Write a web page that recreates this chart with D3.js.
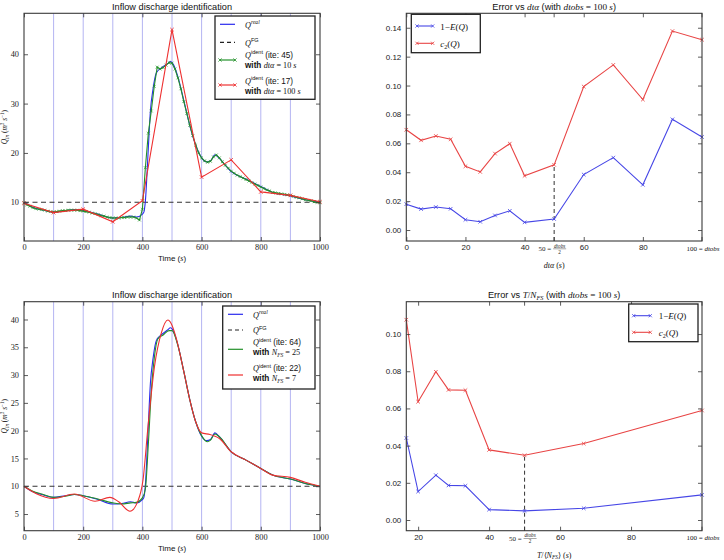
<!DOCTYPE html>
<html><head><meta charset="utf-8">
<script src="https://cdn.jsdelivr.net/npm/d3@7"></script>
<style>body{margin:0;background:#fff} svg{display:block}</style>
</head><body><svg id="c" width="724" height="560"></svg>
<script>
// ---------------- DATA ----------------
const timeTicks = [0, 200, 400, 600, 800, 1000];
const gridTimes = [100, 200, 300, 400, 500, 600, 700, 800, 900];
const qFG = 10;
// Q real (knots)
const realT = [0,30,60,100,140,170,200,250,300,330,360,380,400,405,410,419,427,436,447,465,485,495,505,520,540,560,580,600,617,630,645,660,700,750,800,840,900,950,1000];
const realQ = [10.0,9.0,8.5,8.0,8.3,8.5,8.3,7.6,6.8,6.9,7.2,7.0,7.6,8.0,10.2,19.8,28.5,33.0,36.2,37.3,38.1,38.5,37.9,35.4,30.6,25.6,21.6,19.0,18.2,18.4,19.6,18.9,16.2,14.7,13.2,12.0,11.3,10.5,10.0];
// Top-left: identified Q with dta = 10 s (ite 45)
const ident10T = [0,10,20,30,40,50,60,70,80,90,100,110,120,130,140,150,160,170,180,190,200,210,220,230,240,250,260,270,280,290,300,310,320,330,340,350,360,370,380,390,400,410,420,430,440,450,460,470,480,490,500,510,520,530,540,550,560,570,580,590,600,610,620,630,640,650,660,670,680,690,700,710,720,730,740,750,760,770,780,790,800,810,820,830,840,850,860,870,880,890,900,910,920,930,940,950,960,970,980,990,1000];
const ident10Q = [9.9,9.5,9.2,8.9,8.7,8.6,8.5,8.4,8.2,8.1,8.0,8.1,8.2,8.3,8.3,8.4,8.4,8.4,8.4,8.3,8.2,8.1,8.0,7.8,7.7,7.5,7.3,7.2,7.0,6.9,6.8,6.8,6.8,6.9,6.9,7.0,7.0,7.0,6.8,6.4,8.6,17.0,24.0,28.5,33.5,37.4,37.0,37.3,37.8,38.3,38.2,37.0,35.2,33.0,30.4,28.0,25.6,23.5,21.6,20.0,19.0,18.4,18.1,18.3,19.2,19.6,19.0,18.2,17.5,16.9,16.3,15.9,15.5,15.2,14.9,14.6,14.3,14.0,13.7,13.4,13.1,12.8,12.5,12.3,12.0,11.9,11.8,11.7,11.6,11.5,11.4,11.2,11.0,10.9,10.7,10.5,10.4,10.3,10.1,10.0,9.9];
// Top-left: identified Q with dta = 100 s (ite 17)
const ident100T = [0,100,200,300,400,500,600,700,800,900,1000];
const ident100Q = [9.8,7.9,8.6,6.05,10.3,45.0,15.1,18.6,12.1,11.4,10.1];
// Bottom-left: N_FS = 25 (ite 64)
const nfs25T = [0,30,60,100,140,170,200,250,300,330,360,380,400,410,420,430,440,452,470,490,500,520,540,560,580,600,620,630,645,660,700,750,800,840,900,950,1000];
const nfs25Q = [10.0,9.1,8.6,8.0,8.2,8.5,8.3,7.7,7.0,6.8,7.0,7.1,7.9,9.5,17.5,27.0,33.0,36.5,37.2,38.0,38.0,35.3,30.6,25.6,21.6,19.1,18.0,18.3,19.4,18.9,16.2,14.7,13.2,12.0,11.3,10.5,10.0];
// Bottom-left: N_FS = 7 (ite 22)
const nfs7T = [0,40,100,170,240,290,320,358,386,402,419,441,464,486,498,514,540,560,580,600,628,645,660,700,750,800,840,900,950,1000];
const nfs7Q = [10.0,8.7,7.8,8.6,7.3,8.0,7.2,5.5,7.5,11.1,20.8,31.6,37.6,39.9,39.2,36.7,30.6,25.6,21.6,19.6,19.3,19.0,18.6,16.2,14.7,13.2,12.0,11.6,10.7,10.0];
// Top-right: error vs dta
const dta = [0,5,10,15,20,25,30,35,40,50,60,70,80,90,100];
const errDta = [0.0179,0.0145,0.0159,0.0147,0.0071,0.0057,0.0101,0.0133,0.0053,0.0076,0.0384,0.0501,0.0313,0.0766,0.0644];
const c2Dta = [0.0694,0.0621,0.0651,0.0628,0.0441,0.0402,0.0529,0.0598,0.0375,0.0451,0.0993,0.1143,0.0903,0.1377,0.1317];
const dtaTicks = [0, 20, 40, 60, 80];
const errTicksTop = [0, 0.02, 0.04, 0.06, 0.08, 0.10, 0.12, 0.14];
// Bottom-right: error vs T/N_FS
const tNfs = [16.667,20,25,28.571,33.333,40,50,66.667,100];
const errNfs = [0.0441,0.0153,0.0241,0.0186,0.0184,0.0056,0.0049,0.0063,0.0135];
const c2Nfs = [0.1077,0.0636,0.0797,0.0700,0.0698,0.0377,0.0348,0.0411,0.0589];
const nfsTicks = [20, 40, 60, 80];
const errTicksBot = [0, 0.02, 0.04, 0.06, 0.08, 0.10];

// ---------------- STYLE ----------------
const SANS = "Liberation Sans, Arial, sans-serif";
const SERIF = "Liberation Serif, Times New Roman, serif";
const BLUE = "#2a2aee", GREEN = "#23902a", RED = "#ee3030", GRID = "#b4b4f2";
const EBLUE = "#4646e6", ERED = "#e84444";

const svg = d3.select("#c");

function makePanel(x0, x1, y0, y1, xd, yd) {
  return {x0, x1, y0, y1,
    x: d3.scaleLinear().domain(xd).range([x0, x1]),
    y: d3.scaleLinear().domain(yd).range([y1, y0])};
}
const P1 = makePanel(24, 320, 13.3, 241, [0, 1000], [2.15, 48.3]);
const P3 = makePanel(24, 320, 301.7, 530.7, [0, 1000], [2.0, 43.2]);
const P2 = makePanel(406.3, 702, 13.3, 241, [0, 100], [-0.0076, 0.150]);
const P4 = makePanel(406.3, 702, 301.7, 530.7, [tNfs[0], 100], [-0.00575, 0.1174]);

// rich text helper: parts = [[text, style]] style tokens: s (sans) i (serif italic) r (serif) b (bold) sup sub
function rich(g, x, y, size, parts, anchor) {
  const t = g.append("text").attr("x", x).attr("y", y).attr("font-size", size)
    .attr("text-anchor", anchor || "start").attr("fill", "#111");
  let shift = 0;
  parts.forEach(([txt, st]) => {
    const tok = st.split(" ");
    const ts = t.append("tspan").text(txt);
    let target = 0, fs = size;
    if (tok.includes("sup")) { target = -size * 0.42; fs = size * 0.68; }
    if (tok.includes("sub")) { target = size * 0.22; fs = size * 0.68; }
    ts.attr("dy", target - shift); shift = target;
    ts.attr("font-size", fs);
    ts.attr("font-family", tok.includes("s") ? SANS : SERIF);
    if (tok.includes("i")) ts.attr("font-style", "italic");
    if (tok.includes("b")) ts.attr("font-weight", "bold");
  });
  return t;
}

function frameAndTicks(P, xTicks, yTicks, xFmt, yFmt, labelFont, labelSize) {
  const g = svg.append("g");
  const xb = d3.axisBottom(P.x).tickValues(xTicks).tickSizeInner(-4).tickSizeOuter(0).tickPadding(3.5).tickFormat(xFmt);
  const xt = d3.axisTop(P.x).tickValues(xTicks).tickSizeInner(-4).tickSizeOuter(0).tickFormat("");
  const yl = d3.axisLeft(P.y).tickValues(yTicks).tickSizeInner(-4).tickSizeOuter(0).tickPadding(5).tickFormat(yFmt);
  const yr = d3.axisRight(P.y).tickValues(yTicks).tickSizeInner(-4).tickSizeOuter(0).tickFormat("");
  [[xb, `translate(0,${P.y1})`], [xt, `translate(0,${P.y0})`], [yl, `translate(${P.x0},0)`], [yr, `translate(${P.x1},0)`]].forEach(([ax, tr]) => {
    const a = g.append("g").attr("transform", tr).call(ax);
    a.select(".domain").remove();
    a.selectAll("line").attr("stroke", "#333").attr("stroke-width", 0.8);
    a.selectAll("text").attr("font-family", labelFont).attr("font-size", labelSize).attr("fill", "#222");
  });
  g.append("rect").attr("x", P.x0).attr("y", P.y0).attr("width", P.x1 - P.x0).attr("height", P.y1 - P.y0)
    .attr("fill", "none").attr("stroke", "#3a3a3a").attr("stroke-width", 1.1);
  return g;
}

function xMarks(g, pts, color, r, sw) {
  g.selectAll(null).data(pts).join("path")
    .attr("d", d => `M${d[0]-r},${d[1]-r}L${d[0]+r},${d[1]+r}M${d[0]-r},${d[1]+r}L${d[0]+r},${d[1]-r}`)
    .attr("stroke", color).attr("stroke-width", sw).attr("fill", "none");
}

function drawLine(g, P, xs, ys, color, curve, w, dash) {
  const pts = xs.map((v, i) => [P.x(v), P.y(ys[i])]);
  g.append("path").attr("d", d3.line().curve(curve || d3.curveLinear)(pts))
    .attr("fill", "none").attr("stroke", color).attr("stroke-width", w || 1).attr("stroke-dasharray", dash || null);
  return pts;
}

// ---------------- LEFT PANELS ----------------
function leftPanel(P, yTicks, title, titleY, legendBox, legendEntries, series) {
  const g = svg.append("g");
  g.selectAll(null).data(gridTimes).join("line")
    .attr("x1", d => P.x(d)).attr("x2", d => P.x(d)).attr("y1", P.y0).attr("y2", P.y1)
    .attr("stroke", GRID).attr("stroke-width", 1);
  g.append("line").attr("x1", P.x0).attr("x2", P.x1).attr("y1", P.y(qFG)).attr("y2", P.y(qFG))
    .attr("stroke", "#333").attr("stroke-width", 1.2).attr("stroke-dasharray", "5,3.5");
  series(g);
  frameAndTicks(P, timeTicks, yTicks, d3.format("d"), d3.format("d"), SERIF, 8.3);
  svg.append("text").attr("x", (P.x0 + P.x1) / 2).attr("y", titleY).attr("text-anchor", "middle")
    .attr("font-family", SANS).attr("font-size", 9.2).attr("fill", "#111").text(title);
  rich(svg, (P.x0 + P.x1) / 2, P.y1 + 20, 8, [["Time (", "s"], ["s", "i"], [")", "s"]], "middle");
  const yl = svg.append("g").attr("transform", `translate(7,${(P.y0 + P.y1) / 2}) rotate(-90)`);
  rich(yl, 0, 0, 7.5, [["Q", "i"], ["in", "i sub"], [" (", "r"], ["m", "i"], ["3", "r sup"], [" s", "i"], ["−1", "r sup"], [")", "r"]], "middle");
  const [lx0, ly0, lx1, ly1] = legendBox;
  svg.append("rect").attr("x", lx0).attr("y", ly0).attr("width", lx1 - lx0).attr("height", ly1 - ly0)
    .attr("fill", "#fff").attr("stroke", "#222").attr("stroke-width", 1.3);
  legendEntries.forEach(e => {
    svg.append("line").attr("x1", e.sx0).attr("x2", e.sx1).attr("y1", e.sy).attr("y2", e.sy)
      .attr("stroke", e.color).attr("stroke-width", 1.2).attr("stroke-dasharray", e.dash || null);
    if (e.marks) xMarks(svg, [[e.sx0, e.sy], [e.sx1, e.sy]], e.color, 1.6, 0.8);
    e.lines.forEach(l => rich(svg, e.tx, l.y, 8.2, l.parts));
  });
}

leftPanel(P1, [10, 20, 30, 40], "Inflow discharge identification", 10,
  [215, 16, 315, 99.3],
  [
    {sx0: 220, sx1: 235, sy: 24.3, color: BLUE, tx: 245, lines: [{y: 27.5, parts: [["Q", "i"], ["real", "i sup"]]}]},
    {sx0: 220, sx1: 235, sy: 42.3, color: "#222", dash: "4,3", tx: 245, lines: [{y: 45.5, parts: [["Q", "i"], ["FG", "s sup"]]}]},
    {sx0: 220, sx1: 235, sy: 60, color: GREEN, marks: true, tx: 245, lines: [
      {y: 57.5, parts: [["Q", "i"], ["ident", "s sup"], [" (ite: 45)", "s"]]},
      {y: 67.5, parts: [["with ", "s b"], ["dtα", "i"], [" = 10 ", "r"], ["s", "i"]]}]},
    {sx0: 220, sx1: 235, sy: 85, color: RED, marks: true, tx: 245, lines: [
      {y: 83.5, parts: [["Q", "i"], ["ident", "s sup"], [" (ite: 17)", "s"]]},
      {y: 93.5, parts: [["with ", "s b"], ["dtα", "i"], [" = 100 ", "r"], ["s", "i"]]}]}
  ],
  g => {
    drawLine(g, P1, realT, realQ, BLUE, d3.curveMonotoneX, 1.1);
    const gp = drawLine(g, P1, ident10T, ident10Q, GREEN, d3.curveLinear, 1.1);
    xMarks(g, gp, GREEN, 1.4, 0.7);
    const rp = drawLine(g, P1, ident100T, ident100Q, RED, d3.curveLinear, 1.1);
    xMarks(g, rp, RED, 1.8, 0.8);
  });

leftPanel(P3, [5, 10, 15, 20, 25, 30, 35, 40], "Inflow discharge identification", 298,
  [222.7, 306, 315, 389],
  [
    {sx0: 228, sx1: 243, sy: 314.3, color: BLUE, tx: 253, lines: [{y: 317.5, parts: [["Q", "i"], ["real", "i sup"]]}]},
    {sx0: 228, sx1: 243, sy: 330, color: "#222", dash: "4,3", tx: 253, lines: [{y: 333.2, parts: [["Q", "i"], ["FG", "s sup"]]}]},
    {sx0: 228, sx1: 243, sy: 349.3, color: GREEN, tx: 253, lines: [
      {y: 345.3, parts: [["Q", "i"], ["ident", "s sup"], [" (ite: 64)", "s"]]},
      {y: 355, parts: [["with ", "s b"], ["N", "i"], ["FS", "i sub"], [" = 25", "r"]]}]},
    {sx0: 228, sx1: 243, sy: 375, color: RED, tx: 253, lines: [
      {y: 371, parts: [["Q", "i"], ["ident", "s sup"], [" (ite: 22)", "s"]]},
      {y: 380.7, parts: [["with ", "s b"], ["N", "i"], ["FS", "i sub"], [" = 7", "r"]]}]}
  ],
  g => {
    drawLine(g, P3, realT, realQ, BLUE, d3.curveMonotoneX, 1.1);
    drawLine(g, P3, nfs25T, nfs25Q, GREEN, d3.curveMonotoneX, 1.1);
    drawLine(g, P3, nfs7T, nfs7Q, RED, d3.curveMonotoneX, 1.1);
  });

// ---------------- RIGHT PANELS ----------------
function fracLabel(cx, cy) {
  const g = svg.append("g");
  g.append("text").attr("x", cx - 3).attr("y", cy + 2.5).attr("text-anchor", "end")
    .attr("font-family", SERIF).attr("font-size", 7).attr("fill", "#222").text("50 =");
  g.append("text").attr("x", cx + 5.5).attr("y", cy - 0.8).attr("text-anchor", "middle")
    .attr("font-family", SERIF).attr("font-style", "italic").attr("font-size", 5.2).attr("fill", "#222").text("dtobs");
  g.append("line").attr("x1", cx - 1).attr("x2", cx + 12).attr("y1", cy + 0.3).attr("y2", cy + 0.3).attr("stroke", "#222").attr("stroke-width", 0.4);
  g.append("text").attr("x", cx + 5.5).attr("y", cy + 5).attr("text-anchor", "middle")
    .attr("font-family", SERIF).attr("font-size", 5.2).attr("fill", "#222").text("2");
}

function rightPanel(P, xs, e1, e2, xTicks, yTicks, titleParts, titleY, legendBox, legRows, xLabelParts) {
  const g = svg.append("g");
  const i50 = xs.indexOf(50);
  g.append("line").attr("x1", P.x(50)).attr("x2", P.x(50)).attr("y1", P.y1).attr("y2", P.y(e2[i50]))
    .attr("stroke", "#333").attr("stroke-width", 1).attr("stroke-dasharray", "4,3");
  const bp = drawLine(g, P, xs, e1, EBLUE, d3.curveLinear, 1.1);
  xMarks(g, bp, EBLUE, 1.8, 0.8);
  const rp = drawLine(g, P, xs, e2, ERED, d3.curveLinear, 1.1);
  xMarks(g, rp, ERED, 1.8, 0.8);
  const fg = frameAndTicks(P, xTicks, yTicks, d3.format("d"), d3.format(".2f"), SANS, 8);
  [50, 100].forEach(v => {
    fg.append("line").attr("x1", P.x(v)).attr("x2", P.x(v)).attr("y1", P.y1).attr("y2", P.y1 - 4).attr("stroke", "#333").attr("stroke-width", 0.8);
    fg.append("line").attr("x1", P.x(v)).attr("x2", P.x(v)).attr("y1", P.y0).attr("y2", P.y0 + 4).attr("stroke", "#333").attr("stroke-width", 0.8);
  });
  fracLabel(P.x(50), P.y1 + 7.5);
  rich(svg, P.x(100) + 1, P.y1 + 9.5, 7, [["100 = ", "r"], ["dtobs", "i"]], "middle");
  rich(svg, (P.x0 + P.x1) / 2, titleY, 9.2, titleParts, "middle");
  rich(svg, (P.x0 + P.x1) / 2, P.y1 + 27, 8, xLabelParts, "middle");
  const [lx0, ly0, lx1, ly1] = legendBox;
  svg.append("rect").attr("x", lx0).attr("y", ly0).attr("width", lx1 - lx0).attr("height", ly1 - ly0)
    .attr("fill", "#fff").attr("stroke", "#222").attr("stroke-width", 1.3);
  legRows.forEach(r => {
    svg.append("line").attr("x1", r.sx0).attr("x2", r.sx1).attr("y1", r.sy).attr("y2", r.sy).attr("stroke", r.color).attr("stroke-width", 1.1);
    xMarks(svg, [[r.sx0, r.sy], [r.sx1, r.sy]], r.color, 1.6, 0.8);
    rich(svg, r.tx, r.sy + 3.5, 9, r.parts);
  });
}

rightPanel(P2, dta, errDta, c2Dta, dtaTicks, errTicksTop,
  [["Error vs ", "s"], ["dtα", "i"], ["  (with ", "s"], ["dtobs", "i"], [" = 100 ", "r"], ["s", "i"], [")", "s"]], 10,
  [411.3, 14.3, 480.3, 52.7],
  [{sx0: 417, sx1: 432.7, sy: 26, color: EBLUE, tx: 440.3, parts: [["1−", "r"], ["E", "i"], ["(", "r"], ["Q", "i"], [")", "r"]]},
   {sx0: 417, sx1: 432.7, sy: 43.3, color: ERED, tx: 440.3, parts: [["c", "i"], ["2", "r sub"], ["(", "r"], ["Q", "i"], [")", "r"]]}],
  [["dtα", "i"], [" (", "r"], ["s", "i"], [")", "r"]]);

rightPanel(P4, tNfs, errNfs, c2Nfs, nfsTicks, errTicksBot,
  [["Error vs ", "s"], ["T", "i"], ["/", "r"], ["N", "i"], ["FS", "i sub"], [" (with ", "s"], ["dtobs", "i"], [" = 100 ", "r"], ["s", "i"], [")", "s"]], 298,
  [628.7, 304, 698, 341.7],
  [{sx0: 633.7, sx1: 650.3, sy: 315.7, color: EBLUE, tx: 658.7, parts: [["1−", "r"], ["E", "i"], ["(", "r"], ["Q", "i"], [")", "r"]]},
   {sx0: 633.7, sx1: 650.3, sy: 332.3, color: ERED, tx: 658.7, parts: [["c", "i"], ["2", "r sub"], ["(", "r"], ["Q", "i"], [")", "r"]]}],
  [["T", "i"], ["/⟨", "r"], ["N", "i"], ["FS", "i sub"], ["⟩ (", "r"], ["s", "i"], [")", "r"]]);
</script>
</body></html>
